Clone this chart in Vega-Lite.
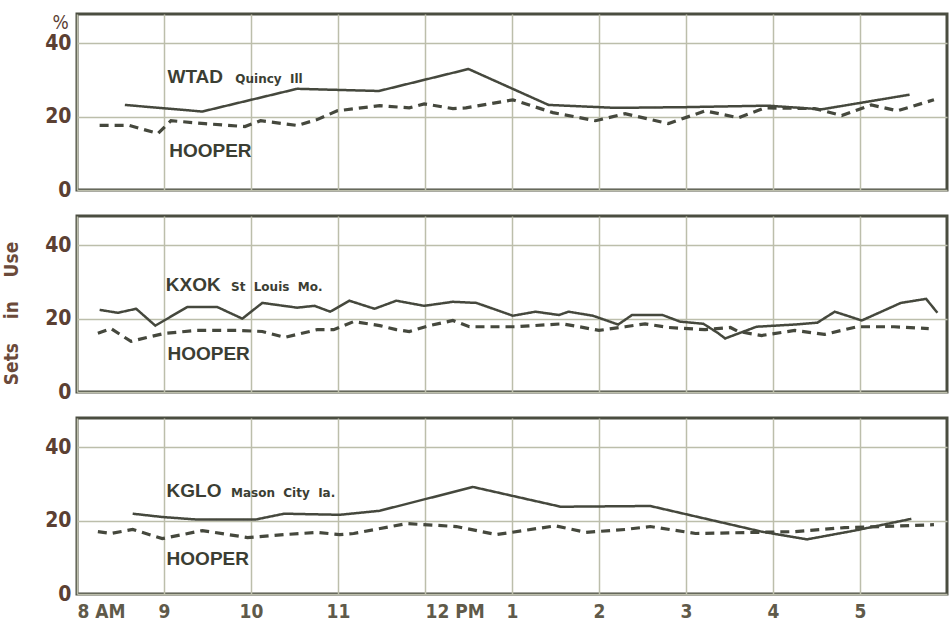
{
  "$schema": "https://vega.github.io/schema/vega-lite/v6.json",
  "padding": {"left": 0, "top": 11, "right": 0, "bottom": 0},
  "background": "white",
  "bounds": "flush",
  "spacing": 26,
  "config": {
    "view": {"stroke": "#4a4d40", "strokeWidth": 3},
    "axis": {"gridColor": "#bcbeab", "gridWidth": 1.5, "gridOpacity": 1, "ticks": false, "domain": false,
             "labelFont": "DejaVu Sans Condensed, Liberation Sans",
             "labelFontWeight": "bold", "titleFont": "DejaVu Sans Condensed, Liberation Sans"}
  },
  "datasets": {
    "series": [
      {"s":"WTAD","t":"station","h":8.55,"v":23.2},{"s":"WTAD","t":"station","h":9.44,"v":21.4},{"s":"WTAD","t":"station","h":10.53,"v":27.6},{"s":"WTAD","t":"station","h":11.47,"v":27.0},{"s":"WTAD","t":"station","h":12.50,"v":33.0},{"s":"WTAD","t":"station","h":13.42,"v":23.2},{"s":"WTAD","t":"station","h":14.19,"v":22.4},{"s":"WTAD","t":"station","h":15.0,"v":22.6},{"s":"WTAD","t":"station","h":15.94,"v":23.0},{"s":"WTAD","t":"station","h":16.56,"v":22.0},{"s":"WTAD","t":"station","h":17.57,"v":26.0},
      {"s":"WTAD","t":"hooper","h":8.26,"v":17.6},{"s":"WTAD","t":"hooper","h":8.6,"v":17.6},{"s":"WTAD","t":"hooper","h":8.93,"v":15.4},{"s":"WTAD","t":"hooper","h":9.08,"v":18.9},{"s":"WTAD","t":"hooper","h":9.47,"v":18.1},{"s":"WTAD","t":"hooper","h":9.93,"v":17.3},{"s":"WTAD","t":"hooper","h":10.11,"v":18.9},{"s":"WTAD","t":"hooper","h":10.53,"v":17.6},{"s":"WTAD","t":"hooper","h":10.76,"v":19.2},{"s":"WTAD","t":"hooper","h":10.99,"v":21.6},{"s":"WTAD","t":"hooper","h":11.48,"v":23.0},{"s":"WTAD","t":"hooper","h":11.82,"v":22.4},{"s":"WTAD","t":"hooper","h":11.99,"v":23.5},{"s":"WTAD","t":"hooper","h":12.32,"v":22.2},{"s":"WTAD","t":"hooper","h":12.47,"v":22.4},{"s":"WTAD","t":"hooper","h":13.01,"v":24.6},{"s":"WTAD","t":"hooper","h":13.47,"v":21.1},{"s":"WTAD","t":"hooper","h":13.96,"v":18.9},{"s":"WTAD","t":"hooper","h":14.30,"v":20.8},{"s":"WTAD","t":"hooper","h":14.80,"v":18.1},{"s":"WTAD","t":"hooper","h":15.22,"v":21.6},{"s":"WTAD","t":"hooper","h":15.60,"v":19.7},{"s":"WTAD","t":"hooper","h":15.91,"v":22.4},{"s":"WTAD","t":"hooper","h":16.48,"v":22.2},{"s":"WTAD","t":"hooper","h":16.79,"v":20.3},{"s":"WTAD","t":"hooper","h":17.13,"v":23.2},{"s":"WTAD","t":"hooper","h":17.43,"v":21.6},{"s":"WTAD","t":"hooper","h":17.85,"v":24.6},
      {"s":"KXOK","t":"station","h":8.26,"v":22.4},{"s":"KXOK","t":"station","h":8.47,"v":21.6},{"s":"KXOK","t":"station","h":8.68,"v":22.7},{"s":"KXOK","t":"station","h":8.90,"v":18.1},{"s":"KXOK","t":"station","h":9.27,"v":23.2},{"s":"KXOK","t":"station","h":9.61,"v":23.2},{"s":"KXOK","t":"station","h":9.90,"v":20.0},{"s":"KXOK","t":"station","h":10.13,"v":24.3},{"s":"KXOK","t":"station","h":10.53,"v":23.0},{"s":"KXOK","t":"station","h":10.73,"v":23.5},{"s":"KXOK","t":"station","h":10.91,"v":21.9},{"s":"KXOK","t":"station","h":11.13,"v":24.9},{"s":"KXOK","t":"station","h":11.42,"v":22.7},{"s":"KXOK","t":"station","h":11.67,"v":24.9},{"s":"KXOK","t":"station","h":11.99,"v":23.5},{"s":"KXOK","t":"station","h":12.32,"v":24.6},{"s":"KXOK","t":"station","h":12.59,"v":24.3},{"s":"KXOK","t":"station","h":13.01,"v":20.8},{"s":"KXOK","t":"station","h":13.27,"v":21.9},{"s":"KXOK","t":"station","h":13.54,"v":21.0},{"s":"KXOK","t":"station","h":13.65,"v":21.9},{"s":"KXOK","t":"station","h":13.93,"v":20.8},{"s":"KXOK","t":"station","h":14.22,"v":18.4},{"s":"KXOK","t":"station","h":14.38,"v":21.0},{"s":"KXOK","t":"station","h":14.73,"v":21.0},{"s":"KXOK","t":"station","h":14.93,"v":19.2},{"s":"KXOK","t":"station","h":15.20,"v":18.6},{"s":"KXOK","t":"station","h":15.36,"v":16.2},{"s":"KXOK","t":"station","h":15.45,"v":14.6},{"s":"KXOK","t":"station","h":15.81,"v":17.8},{"s":"KXOK","t":"station","h":16.25,"v":18.4},{"s":"KXOK","t":"station","h":16.51,"v":18.9},{"s":"KXOK","t":"station","h":16.71,"v":21.9},{"s":"KXOK","t":"station","h":17.02,"v":19.5},{"s":"KXOK","t":"station","h":17.47,"v":24.3},{"s":"KXOK","t":"station","h":17.76,"v":25.4},{"s":"KXOK","t":"station","h":17.89,"v":21.6},
      {"s":"KXOK","t":"hooper","h":8.24,"v":16.0},{"s":"KXOK","t":"hooper","h":8.39,"v":17.3},{"s":"KXOK","t":"hooper","h":8.62,"v":13.8},{"s":"KXOK","t":"hooper","h":8.81,"v":14.9},{"s":"KXOK","t":"hooper","h":9.01,"v":16.0},{"s":"KXOK","t":"hooper","h":9.38,"v":16.8},{"s":"KXOK","t":"hooper","h":9.84,"v":16.8},{"s":"KXOK","t":"hooper","h":10.13,"v":16.5},{"s":"KXOK","t":"hooper","h":10.39,"v":14.9},{"s":"KXOK","t":"hooper","h":10.76,"v":17.0},{"s":"KXOK","t":"hooper","h":10.95,"v":17.0},{"s":"KXOK","t":"hooper","h":11.18,"v":19.2},{"s":"KXOK","t":"hooper","h":11.48,"v":18.1},{"s":"KXOK","t":"hooper","h":11.67,"v":17.0},{"s":"KXOK","t":"hooper","h":11.82,"v":16.5},{"s":"KXOK","t":"hooper","h":12.05,"v":18.1},{"s":"KXOK","t":"hooper","h":12.32,"v":19.5},{"s":"KXOK","t":"hooper","h":12.51,"v":17.8},{"s":"KXOK","t":"hooper","h":13.05,"v":17.8},{"s":"KXOK","t":"hooper","h":13.58,"v":18.6},{"s":"KXOK","t":"hooper","h":13.77,"v":17.8},{"s":"KXOK","t":"hooper","h":14.00,"v":16.8},{"s":"KXOK","t":"hooper","h":14.30,"v":17.8},{"s":"KXOK","t":"hooper","h":14.53,"v":18.6},{"s":"KXOK","t":"hooper","h":14.80,"v":17.6},{"s":"KXOK","t":"hooper","h":15.22,"v":17.0},{"s":"KXOK","t":"hooper","h":15.51,"v":17.6},{"s":"KXOK","t":"hooper","h":15.60,"v":16.5},{"s":"KXOK","t":"hooper","h":15.87,"v":15.4},{"s":"KXOK","t":"hooper","h":16.25,"v":16.8},{"s":"KXOK","t":"hooper","h":16.59,"v":15.7},{"s":"KXOK","t":"hooper","h":16.97,"v":17.8},{"s":"KXOK","t":"hooper","h":17.39,"v":17.8},{"s":"KXOK","t":"hooper","h":17.79,"v":17.3},
      {"s":"KGLO","t":"station","h":8.64,"v":21.9},{"s":"KGLO","t":"station","h":8.98,"v":21.0},{"s":"KGLO","t":"station","h":9.38,"v":20.3},{"s":"KGLO","t":"station","h":10.05,"v":20.3},{"s":"KGLO","t":"station","h":10.38,"v":21.9},{"s":"KGLO","t":"station","h":11.02,"v":21.6},{"s":"KGLO","t":"station","h":11.48,"v":22.7},{"s":"KGLO","t":"station","h":12.55,"v":29.2},{"s":"KGLO","t":"station","h":13.56,"v":23.8},{"s":"KGLO","t":"station","h":14.59,"v":24.0},{"s":"KGLO","t":"station","h":15.87,"v":17.0},{"s":"KGLO","t":"station","h":16.39,"v":14.9},{"s":"KGLO","t":"station","h":16.94,"v":17.3},{"s":"KGLO","t":"station","h":17.59,"v":20.5},
      {"s":"KGLO","t":"hooper","h":8.24,"v":17.0},{"s":"KGLO","t":"hooper","h":8.39,"v":16.5},{"s":"KGLO","t":"hooper","h":8.64,"v":17.6},{"s":"KGLO","t":"hooper","h":8.98,"v":15.1},{"s":"KGLO","t":"hooper","h":9.44,"v":17.3},{"s":"KGLO","t":"hooper","h":9.96,"v":15.4},{"s":"KGLO","t":"hooper","h":10.38,"v":16.2},{"s":"KGLO","t":"hooper","h":10.76,"v":16.8},{"s":"KGLO","t":"hooper","h":11.02,"v":16.2},{"s":"KGLO","t":"hooper","h":11.18,"v":16.5},{"s":"KGLO","t":"hooper","h":11.79,"v":19.2},{"s":"KGLO","t":"hooper","h":12.36,"v":18.4},{"s":"KGLO","t":"hooper","h":12.82,"v":16.2},{"s":"KGLO","t":"hooper","h":13.50,"v":18.6},{"s":"KGLO","t":"hooper","h":13.85,"v":16.8},{"s":"KGLO","t":"hooper","h":14.30,"v":17.6},{"s":"KGLO","t":"hooper","h":14.59,"v":18.4},{"s":"KGLO","t":"hooper","h":15.11,"v":16.5},{"s":"KGLO","t":"hooper","h":15.79,"v":16.8},{"s":"KGLO","t":"hooper","h":16.25,"v":17.0},{"s":"KGLO","t":"hooper","h":16.82,"v":18.1},{"s":"KGLO","t":"hooper","h":17.28,"v":18.4},{"s":"KGLO","t":"hooper","h":17.85,"v":18.9}
    ],
    "labels": [
      {"s":"WTAD","kind":"big","txt":"WTAD","h":9.04,"v":29.2},
      {"s":"WTAD","kind":"small","txt":"Quincy\u00a0 Ill","h":9.82,"v":29.2},
      {"s":"WTAD","kind":"hooper","txt":"HOOPER","h":9.06,"v":8.9},
      {"s":"KXOK","kind":"big","txt":"KXOK","h":9.02,"v":27.6},
      {"s":"KXOK","kind":"small","txt":"St\u00a0 Louis\u00a0 Mo.","h":9.77,"v":27.6},
      {"s":"KXOK","kind":"hooper","txt":"HOOPER","h":9.04,"v":8.6},
      {"s":"KGLO","kind":"big","txt":"KGLO","h":9.03,"v":26.5},
      {"s":"KGLO","kind":"small","txt":"Mason\u00a0 City\u00a0 Ia.","h":9.77,"v":26.5},
      {"s":"KGLO","kind":"hooper","txt":"HOOPER","h":9.03,"v":7.8}
    ]
  },
  "vconcat": [
    {
      "width": 870, "height": 176,
      "layer": [
        {"data": {"name": "series"}, "transform": [{"filter": "datum.s == 'WTAD'"}],
         "mark": {"type": "line", "color": "#45483d"},
         "encoding": {
           "x": {"field": "h", "type": "quantitative", "scale": {"domain": [8, 18], "nice": false, "zero": false},
                 "axis": {"values": [8,9,10,11,12,13,14,15,16,17], "labels": false, "title": null, "grid": true}},
           "y": {"field": "v", "type": "quantitative", "scale": {"domain": [0, 48], "nice": false},
                 "axis": {"values": [0, 20, 40], "grid": true, "labelFontSize": 21, "labelColor": "#5b4033", "labelPadding": 6,
                          "title": "%", "titleAngle": 0, "titleX": -17, "titleY": 8, "titleAlign": "center", "titleBaseline": "middle",
                          "titleFontSize": 19, "titleColor": "#5b4033", "titleFontWeight": "normal"}},
           "strokeDash": {"field": "t", "type": "nominal", "scale": {"domain": ["station", "hooper"], "range": [[1, 0], [9, 6]]}, "legend": null},
           "strokeWidth": {"field": "t", "type": "nominal", "scale": {"domain": ["station", "hooper"], "range": [2.5, 3.2]}, "legend": null}
         }},
        {"data": {"name": "labels"}, "transform": [{"filter": "datum.s == 'WTAD' && datum.kind == 'big'"}],
         "mark": {"type": "text", "align": "left", "baseline": "alphabetic", "font": "Liberation Sans", "fontWeight": "bold", "fontSize": 19, "color": "#3b3e33"},
         "encoding": {"x": {"field": "h", "type": "quantitative"}, "y": {"field": "v", "type": "quantitative"}, "text": {"field": "txt"}}},
        {"data": {"name": "labels"}, "transform": [{"filter": "datum.s == 'WTAD' && datum.kind == 'hooper'"}],
         "mark": {"type": "text", "align": "left", "baseline": "alphabetic", "font": "Liberation Sans", "fontWeight": "bold", "fontSize": 19, "color": "#3b3e33"},
         "encoding": {"x": {"field": "h", "type": "quantitative"}, "y": {"field": "v", "type": "quantitative"}, "text": {"field": "txt"}}},
        {"data": {"name": "labels"}, "transform": [{"filter": "datum.s == 'WTAD' && datum.kind == 'small'"}],
         "mark": {"type": "text", "align": "left", "baseline": "alphabetic", "font": "DejaVu Sans", "fontWeight": "bold", "fontSize": 12, "color": "#3b3e33"},
         "encoding": {"x": {"field": "h", "type": "quantitative"}, "y": {"field": "v", "type": "quantitative"}, "text": {"field": "txt"}}}
      ]
    },
    {
      "width": 870, "height": 176,
      "layer": [
        {"data": {"name": "series"}, "transform": [{"filter": "datum.s == 'KXOK'"}],
         "mark": {"type": "line", "color": "#45483d"},
         "encoding": {
           "x": {"field": "h", "type": "quantitative", "scale": {"domain": [8, 18], "nice": false, "zero": false},
                 "axis": {"values": [8,9,10,11,12,13,14,15,16,17], "labels": false, "title": null, "grid": true}},
           "y": {"field": "v", "type": "quantitative", "scale": {"domain": [0, 48], "nice": false},
                 "axis": {"values": [0, 20, 40], "grid": true, "labelFontSize": 21, "labelColor": "#5b4033", "labelPadding": 6,
                          "title": "Sets\u00a0\u00a0\u00a0\u00a0in\u00a0\u00a0\u00a0\u00a0Use", "titleAngle": -90, "titleX": -66, "titleY": 97,
                          "titleAlign": "center", "titleBaseline": "middle", "titleFontSize": 19, "titleColor": "#6b4a3a", "titleFontWeight": "bold"}},
           "strokeDash": {"field": "t", "type": "nominal", "scale": {"domain": ["station", "hooper"], "range": [[1, 0], [9, 6]]}, "legend": null},
           "strokeWidth": {"field": "t", "type": "nominal", "scale": {"domain": ["station", "hooper"], "range": [2.5, 3.2]}, "legend": null}
         }},
        {"data": {"name": "labels"}, "transform": [{"filter": "datum.s == 'KXOK' && datum.kind == 'big'"}],
         "mark": {"type": "text", "align": "left", "baseline": "alphabetic", "font": "Liberation Sans", "fontWeight": "bold", "fontSize": 19, "color": "#3b3e33"},
         "encoding": {"x": {"field": "h", "type": "quantitative"}, "y": {"field": "v", "type": "quantitative"}, "text": {"field": "txt"}}},
        {"data": {"name": "labels"}, "transform": [{"filter": "datum.s == 'KXOK' && datum.kind == 'hooper'"}],
         "mark": {"type": "text", "align": "left", "baseline": "alphabetic", "font": "Liberation Sans", "fontWeight": "bold", "fontSize": 19, "color": "#3b3e33"},
         "encoding": {"x": {"field": "h", "type": "quantitative"}, "y": {"field": "v", "type": "quantitative"}, "text": {"field": "txt"}}},
        {"data": {"name": "labels"}, "transform": [{"filter": "datum.s == 'KXOK' && datum.kind == 'small'"}],
         "mark": {"type": "text", "align": "left", "baseline": "alphabetic", "font": "DejaVu Sans", "fontWeight": "bold", "fontSize": 12, "color": "#3b3e33"},
         "encoding": {"x": {"field": "h", "type": "quantitative"}, "y": {"field": "v", "type": "quantitative"}, "text": {"field": "txt"}}}
      ]
    },
    {
      "width": 870, "height": 176,
      "layer": [
        {"data": {"name": "series"}, "transform": [{"filter": "datum.s == 'KGLO'"}],
         "mark": {"type": "line", "color": "#45483d"},
         "encoding": {
           "x": {"field": "h", "type": "quantitative", "scale": {"domain": [8, 18], "nice": false, "zero": false},
                 "axis": {"values": [8,9,10,11,12,13,14,15,16,17], "title": null, "grid": true, "labelFontSize": 19, "labelColor": "#5f5a4a",
                          "labelPadding": 8, "labelBaseline": "top",
                          "labelExpr": "datum.value == 8 ? '8 AM' : datum.value == 12 ? '12 PM' : datum.value > 12 ? '' + (datum.value - 12) : '' + datum.value",
                          "labelAlign": {"condition": {"test": "datum.value == 8 || datum.value == 12", "value": "left"}, "value": "center"},
                          "labelOverlap": false, "labelFlush": false}},
           "y": {"field": "v", "type": "quantitative", "scale": {"domain": [0, 48], "nice": false},
                 "axis": {"values": [0, 20, 40], "grid": true, "labelFontSize": 21, "labelColor": "#5b4033", "labelPadding": 6, "title": null}},
           "strokeDash": {"field": "t", "type": "nominal", "scale": {"domain": ["station", "hooper"], "range": [[1, 0], [9, 6]]}, "legend": null},
           "strokeWidth": {"field": "t", "type": "nominal", "scale": {"domain": ["station", "hooper"], "range": [2.5, 3.2]}, "legend": null}
         }},
        {"data": {"name": "labels"}, "transform": [{"filter": "datum.s == 'KGLO' && datum.kind == 'big'"}],
         "mark": {"type": "text", "align": "left", "baseline": "alphabetic", "font": "Liberation Sans", "fontWeight": "bold", "fontSize": 19, "color": "#3b3e33"},
         "encoding": {"x": {"field": "h", "type": "quantitative"}, "y": {"field": "v", "type": "quantitative"}, "text": {"field": "txt"}}},
        {"data": {"name": "labels"}, "transform": [{"filter": "datum.s == 'KGLO' && datum.kind == 'hooper'"}],
         "mark": {"type": "text", "align": "left", "baseline": "alphabetic", "font": "Liberation Sans", "fontWeight": "bold", "fontSize": 19, "color": "#3b3e33"},
         "encoding": {"x": {"field": "h", "type": "quantitative"}, "y": {"field": "v", "type": "quantitative"}, "text": {"field": "txt"}}},
        {"data": {"name": "labels"}, "transform": [{"filter": "datum.s == 'KGLO' && datum.kind == 'small'"}],
         "mark": {"type": "text", "align": "left", "baseline": "alphabetic", "font": "DejaVu Sans", "fontWeight": "bold", "fontSize": 12, "color": "#3b3e33"},
         "encoding": {"x": {"field": "h", "type": "quantitative"}, "y": {"field": "v", "type": "quantitative"}, "text": {"field": "txt"}}}
      ]
    }
  ]
}
